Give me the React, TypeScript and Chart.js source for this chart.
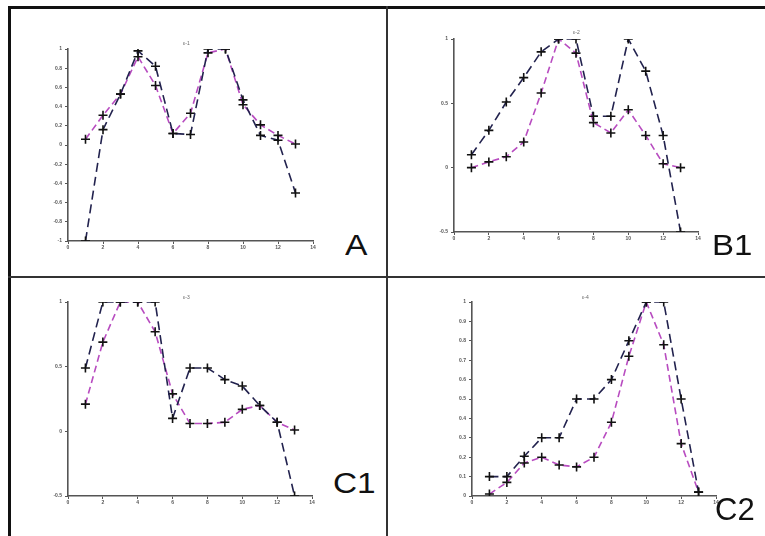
import React, { useEffect, useRef } from "react";
import { Chart, registerables } from "chart.js";

Chart.register(...registerables);

// shared x positions of the samples
const xValues = [1, 2, 3, 4, 5, 6, 7, 8, 9, 10, 11, 12, 13];

// Panel A
const aNavy = [-1, 0.16, 0.53, 0.98, 0.82, 0.12, 0.11, 1.0, 1.0, 0.47, 0.1, 0.05, -0.5];
const aMagenta = [0.06, 0.31, 0.53, 0.92, 0.62, 0.12, 0.33, 0.96, 1.0, 0.42, 0.21, 0.1, 0.01];
// Panel B1
const b1Navy = [0.1, 0.29, 0.51, 0.7, 0.9, 1.0, 1.0, 0.4, 0.4, 1.0, 0.75, 0.25, -0.5];
const b1Magenta = [0.0, 0.045, 0.085, 0.2, 0.58, 1.0, 0.89, 0.35, 0.27, 0.45, 0.25, 0.03, 0.0];
// Panel C1
const c1Navy = [0.49, 1.0, 1.0, 1.0, 1.0, 0.1, 0.49, 0.49, 0.4, 0.35, 0.2, 0.07, -0.5];
const c1Magenta = [0.21, 0.69, 1.0, 1.0, 0.77, 0.29, 0.06, 0.06, 0.07, 0.17, 0.2, 0.07, 0.01];
// Panel C2
const c2Navy = [0.1, 0.1, 0.205, 0.3, 0.3, 0.5, 0.5, 0.6, 0.8, 1.0, 1.0, 0.5, 0.02];
const c2Magenta = [0.01, 0.07, 0.17, 0.2, 0.16, 0.15, 0.2, 0.38, 0.72, 1.0, 0.78, 0.27, 0.02];

// axis ranges
const xMin = 0;
const xMax = 14;
const xStep = 2;

const NAVY = "#22224e";
const MAGENTA = "#b84cc0";

type Area = { l: number; t: number; r: number; b: number };

const fmt = (v: number | string) => String(Math.round(Number(v) * 10) / 10);

function Panel(props: {
  area: Area;
  navy: number[];
  magenta: number[];
  yMin: number;
  yMax: number;
  yStep: number;
}) {
  const ref = useRef<HTMLCanvasElement>(null);
  const { area } = props;
  const W = Math.round(area.r - area.l + 60);
  const H = Math.round(area.b - area.t + 40);

  useEffect(() => {
    const mk = (vals: number[], color: string, dash: number[]) => ({
      data: xValues.map((x, i) => ({ x, y: vals[i] })),
      borderColor: color,
      borderWidth: 1.6,
      borderDash: dash,
      pointStyle: "cross" as const,
      pointRadius: 4.5,
      pointBorderColor: "#111",
      pointBorderWidth: 1.6,
      pointBackgroundColor: "#111",
      fill: false,
      tension: 0,
    });
    const tickFont = { size: 5, weight: "bold" as const, family: "Liberation Sans" };
    const chart = new Chart(ref.current!, {
      type: "line",
      data: {
        datasets: [mk(props.navy, NAVY, [9, 5]), mk(props.magenta, MAGENTA, [7, 4])],
      },
      options: {
        animation: false,
        responsive: false,
        maintainAspectRatio: false,
        layout: { padding: { left: 20, top: 20, right: 20, bottom: 6 } },
        plugins: { legend: { display: false }, tooltip: { enabled: false }, title: { display: false } },
        scales: {
          x: {
            type: "linear",
            min: xMin,
            max: xMax,
            ticks: { stepSize: xStep, font: tickFont, color: "#555", padding: 1, maxRotation: 0, autoSkip: false, callback: fmt },
            grid: { drawOnChartArea: false, tickLength: 3, color: "#555" },
            border: { color: "#555", width: 1.6 },
            afterFit: (s: any) => {
              s.height = 14;
            },
          },
          y: {
            type: "linear",
            min: props.yMin,
            max: props.yMax,
            ticks: { stepSize: props.yStep, font: tickFont, color: "#555", padding: 3, autoSkip: false, callback: fmt },
            grid: { drawOnChartArea: false, tickLength: 3, color: "#555" },
            border: { color: "#555", width: 1.6 },
            afterFit: (s: any) => {
              s.width = 20;
            },
          },
        },
      },
    });
    return () => chart.destroy();
  }, []);

  return (
    <canvas
      ref={ref}
      width={W}
      height={H}
      style={{
        position: "absolute",
        left: Math.round(area.l - 40),
        top: Math.round(area.t - 20),
        width: W,
        height: H,
      }}
    />
  );
}

const labelStyle = (left: number, top: number, size: number, sx: number): React.CSSProperties => ({
  position: "absolute",
  left,
  top,
  fontFamily: "Liberation Sans, Arial, sans-serif",
  fontSize: size,
  lineHeight: `${size}px`,
  color: "#111",
  transform: `scaleX(${sx})`,
  transformOrigin: "left top",
  whiteSpace: "nowrap",
});

const tinyStyle = (left: number, top: number): React.CSSProperties => ({
  position: "absolute",
  left,
  top,
  fontFamily: "Liberation Sans, Arial, sans-serif",
  fontSize: 5,
  lineHeight: "5px",
  color: "#666",
  whiteSpace: "nowrap",
});

export default function App() {
  return (
    <div style={{ position: "absolute", left: 0, top: 0, width: 765, height: 536, background: "#fff", overflow: "hidden" }}>
      {/* frame */}
      <div style={{ position: "absolute", left: 8, top: 6, width: 757, height: 3, background: "#111" }} />
      <div style={{ position: "absolute", left: 8, top: 6, width: 3, height: 530, background: "#111" }} />
      <div style={{ position: "absolute", left: 386, top: 6, width: 2, height: 530, background: "#333" }} />
      <div style={{ position: "absolute", left: 8, top: 276, width: 757, height: 2, background: "#333" }} />

      <Panel area={{ l: 68, t: 49, r: 313, b: 241 }} navy={aNavy} magenta={aMagenta} yMin={-1} yMax={1} yStep={0.2} />
      <Panel area={{ l: 454, t: 39, r: 698, b: 232 }} navy={b1Navy} magenta={b1Magenta} yMin={-0.5} yMax={1} yStep={0.5} />
      <Panel area={{ l: 68, t: 302, r: 312, b: 496 }} navy={c1Navy} magenta={c1Magenta} yMin={-0.5} yMax={1} yStep={0.5} />
      <Panel area={{ l: 472, t: 302, r: 716, b: 496 }} navy={c2Navy} magenta={c2Magenta} yMin={0} yMax={1} yStep={0.1} />

      <div style={tinyStyle(183, 41)}>ε-1</div>
      <div style={tinyStyle(573, 30)}>ε-2</div>
      <div style={tinyStyle(183, 295)}>ε-3</div>
      <div style={tinyStyle(582, 295)}>ε-4</div>

      <div style={labelStyle(345, 230, 30, 1.12)}>A</div>
      <div style={labelStyle(712, 230, 30, 1.1)}>B1</div>
      <div style={labelStyle(333, 469, 29, 1.15)}>C1</div>
      <div style={labelStyle(715, 494, 31, 1.0)}>C2</div>
    </div>
  );
}
